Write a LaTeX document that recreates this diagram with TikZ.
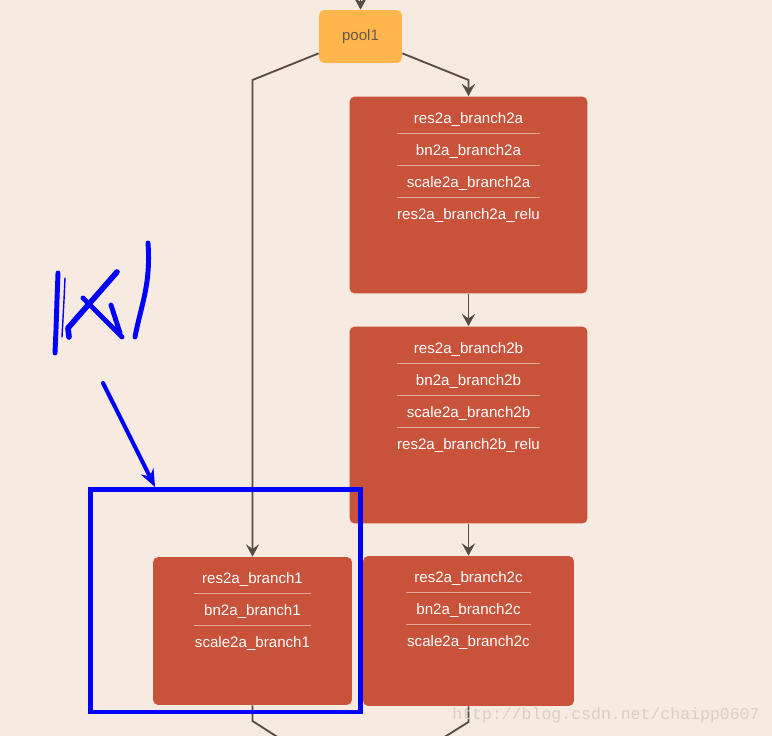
\documentclass[tikz,border=0pt]{standalone}
\usepackage{fontspec}
\setmainfont{Liberation Sans}
\newfontfamily\wmfont{Liberation Mono}
\usetikzlibrary{arrows.meta,calc}

\definecolor{sfondo}{HTML}{F6EAE1}
\definecolor{livello}{HTML}{C9523A}
\definecolor{arancio}{HTML}{FFB74D}
\definecolor{freccia}{HTML}{5B4A44}
\definecolor{testopool}{HTML}{6B5647}
\definecolor{filigrana}{HTML}{D9CFC7}

\begin{document}
\begin{tikzpicture}[x=0.02cm, y=-0.02cm,
        layer/.style={fill=livello, rounded corners=3pt, inner sep=0pt},
        lbl/.style={text=white, font=\fontsize{8.6pt}{10pt}\selectfont, inner sep=0pt, anchor=base},
        sepline/.style={draw=white, draw opacity=0.5, line width=0.5pt},
        edge/.style={draw=freccia, line width=1.05pt},
        arr/.style={edge, -{Stealth[length=7pt, width=7.5pt, inset=2.6pt]}},
        pen/.style={draw=blue, line width=2.8pt, line cap=round, line join=round}]

        \useasboundingbox (0,0) rectangle (772,736);
        \clip (0,0) rectangle (772,736);
        \fill[sfondo] (0,0) rectangle (772,736);

        \node[fill=arancio, rounded corners=3pt, minimum width=1.66cm, minimum height=1.06cm,
              text=testopool, font=\fontsize{8.6pt}{10pt}\selectfont] (pool1) at (360.5,36.5) {pool1};

        \node[layer, minimum width=4.76cm, minimum height=3.94cm] (r2a) at (468.5,195) {};
        \node[layer, minimum width=4.76cm, minimum height=3.94cm] (r2b) at (468.5,425) {};
        \node[layer, minimum width=4.22cm, minimum height=3.00cm] (r2c) at (468.5,631) {};
        \node[layer, minimum width=3.98cm, minimum height=2.96cm] (r1) at (252.5,631) {};

        \foreach \nome [count=\i] in {res2a\_branch2a, bn2a\_branch2a, scale2a\_branch2a, res2a\_branch2a\_relu}
            \node[lbl] (r2a-\i) at ($(r2a.north)+(0,{27+32*(\i-1)})$) {\nome};
        \foreach \nome [count=\i] in {res2a\_branch2b, bn2a\_branch2b, scale2a\_branch2b, res2a\_branch2b\_relu}
            \node[lbl] (r2b-\i) at ($(r2b.north)+(0,{27+32*(\i-1)})$) {\nome};
        \foreach \nome [count=\i] in {res2a\_branch2c, bn2a\_branch2c, scale2a\_branch2c}
            \node[lbl] (r2c-\i) at ($(r2c.north)+(0,{27+32*(\i-1)})$) {\nome};
        \foreach \nome [count=\i] in {res2a\_branch1, bn2a\_branch1, scale2a\_branch1}
            \node[lbl] (r1-\i) at ($(r1.north)+(0,{27+32*(\i-1)})$) {\nome};

        \foreach \i in {1,2,3} {
            \draw[sepline] ($(r2a.north)+(-71.5,{5+32*\i})$) -- ++(143,0);
            \draw[sepline] ($(r2b.north)+(-71.5,{5+32*\i})$) -- ++(143,0);
        }
        \foreach \i in {1,2} {
            \draw[sepline] ($(r2c.north)+(-62.5,{5+32*\i})$) -- ++(125,0);
            \draw[sepline] ($(r1.north)+(-58.5,{5+32*\i})$) -- ++(117,0);
        }

        \coordinate (top) at (360.5,-5);
        \coordinate (lbend) at (252.5,80);
        \coordinate (rbend) at (468.5,80);
        \coordinate (lkink) at (252.5,721);
        \coordinate (rkink) at (468.5,722);
        \coordinate (sotto) at (360,790);

        \draw[arr] (top) -- (pool1);
        \draw[arr] ($(pool1.south west)+(0,-10)$) -- (lbend) -- (r1.north);
        \draw[arr] ($(pool1.south east)+(0,-10)$) -- (rbend) -- (r2a.north);
        \draw[arr] (r2a) -- (r2b);
        \draw[arr] (r2b) -- (r2c);
        \draw[edge] (r1.south) -- (lkink) -- (sotto);
        \draw[edge] (r2c.south) -- (rkink) -- (sotto);

        \node[lbl, text=filigrana, font=\wmfont\fontsize{9.4pt}{10pt}\selectfont] (wm) at (606,720) {http://blog.csdn.net/chaipp0607};

        \node[draw=blue, line width=2.8pt, minimum width=5.4cm, minimum height=4.45cm, inner sep=0pt] (mark) at (225.5,600.75) {};
        \coordinate (penna) at (103,383);
        \draw[pen, line width=2.3pt, -{Stealth[length=10pt, width=8pt]}] (penna) -- ($(mark.north west)+(67,0)$);

        \draw[pen] (58,273) -- (57,300) -- (56,330) -- (55,353);
        \draw[pen, line width=0.8pt] (65,278) -- (64,300) -- (62,337);
        \draw[pen, line width=3.2pt] (69,337) -- (68,328) -- (117,272);
        \draw[pen] (83,298) -- (122,337);
        \draw[pen] (111,305) -- (120,333);
        \draw[pen] (148,243) .. controls (151,285) and (141,305) .. (135,337);

    \end{tikzpicture}
\end{document}
